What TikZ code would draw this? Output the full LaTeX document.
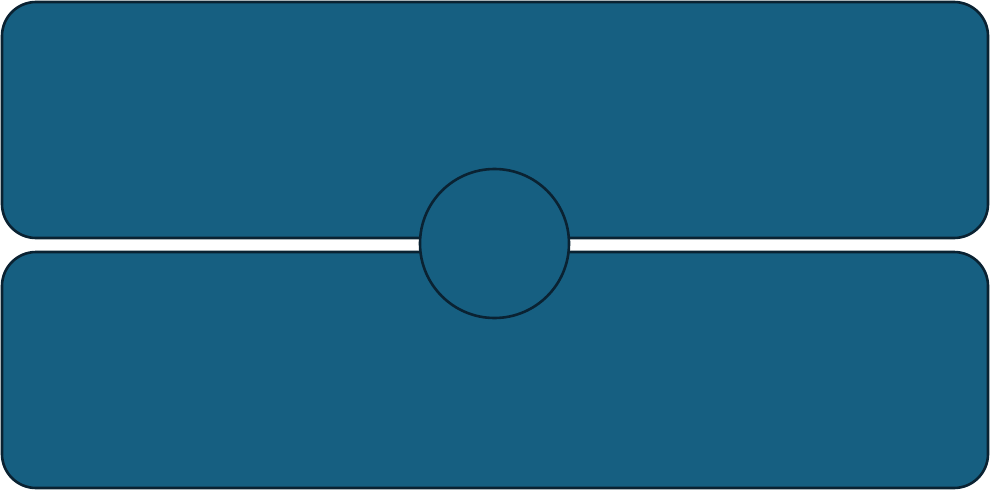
\documentclass[tikz,border=0pt]{standalone}
\definecolor{boxfill}{RGB}{22,95,129}
\definecolor{boxline}{RGB}{10,34,50}
\begin{document}
\begin{tikzpicture}[x=1pt,y=-1pt,
  panel/.style={draw=boxline,fill=boxfill,line width=2.6pt,rounded corners=34pt},
  hub/.style={draw=boxline,fill=boxfill,line width=2.6pt,circle}]
\useasboundingbox (0,0) rectangle (990,490);
\fill[white] (0,0) rectangle (990,490);
\draw[panel] (2,2) rectangle (988,238);
\draw[panel] (2,252) rectangle (988,488);
\node[hub,minimum size=149pt,inner sep=0pt] (c) at (494.5,243.5) {};
\end{tikzpicture}
\end{document}
